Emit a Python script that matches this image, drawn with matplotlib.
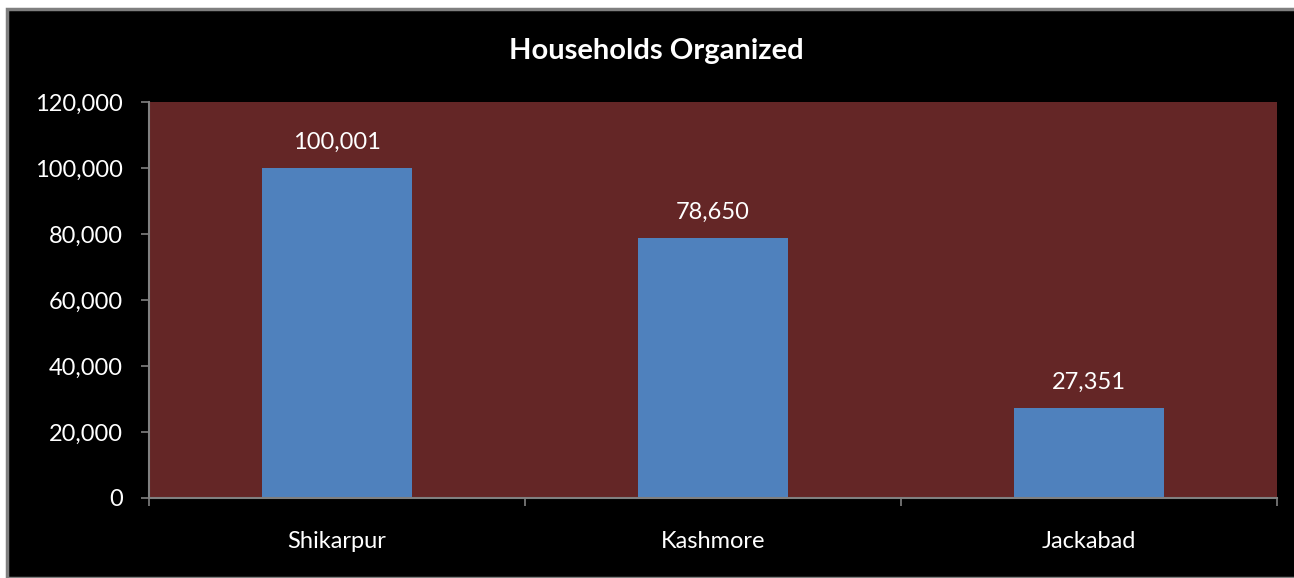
import matplotlib.pyplot as plt
from matplotlib.patches import Rectangle
from matplotlib.ticker import FuncFormatter

districts = ["Shikarpur", "Kashmore", "Jackabad"]
households = [100001, 78650, 27351]
y_ticks = [0, 20000, 40000, 60000, 80000, 100000, 120000]

plt.rcParams['font.family'] = ['Lato', 'DejaVu Sans']

fig = plt.figure(figsize=(12.94, 5.78), dpi=100, facecolor='white')

# black chart area with a thin grey frame
fig.patches.append(Rectangle((7 / 1294, 0), 1.0, 1 - 9 / 578, transform=fig.transFigure,
                             facecolor='black', edgecolor='#7f7f7f', linewidth=2.5, zorder=-10))

ax = fig.add_axes([149 / 1294, 1 - 498 / 578, 1128 / 1294, 396 / 578])
ax.set_facecolor('#642626')

x = range(len(districts))
bars = ax.bar(x, households, width=0.4, color='#4f81bd', zorder=2)

for xi, v in zip(x, households):
    ax.annotate(f"{v:,}", (xi, v), xytext=(0, 11), textcoords='offset points',
                ha='center', va='bottom', color='white', fontsize=17)

ax.set_xlim(-0.5, len(districts) - 0.5)
ax.set_ylim(0, 120000)
ax.set_yticks(y_ticks)
ax.yaxis.set_major_formatter(FuncFormatter(lambda v, p: f"{int(v):,}"))

# category boundaries get the tick marks, names sit between them
ax.set_xticks([-0.5, 0.5, 1.5, 2.5])
ax.set_xticklabels([])
ax.set_xticks(list(x), minor=True)
ax.set_xticklabels(districts, minor=True)
ax.tick_params(axis='x', which='minor', length=0, pad=24, labelsize=17, labelcolor='white')
ax.tick_params(axis='x', which='major', length=6, width=1.2, color='#808080', direction='out')
ax.tick_params(axis='y', length=6, width=1.2, color='#808080', direction='out',
               labelsize=17, labelcolor='white', pad=13)

for side in ['top', 'right']:
    ax.spines[side].set_visible(False)
for side in ['left', 'bottom']:
    ax.spines[side].set_color('#808080')
    ax.spines[side].set_linewidth(1.5)

fig.text(656 / 1294, 1 - 51 / 578, "Households Organized", ha='center', va='center',
         color='white', fontsize=21, fontweight='bold')

fig.savefig('out.png', dpi=100, facecolor=fig.get_facecolor())
